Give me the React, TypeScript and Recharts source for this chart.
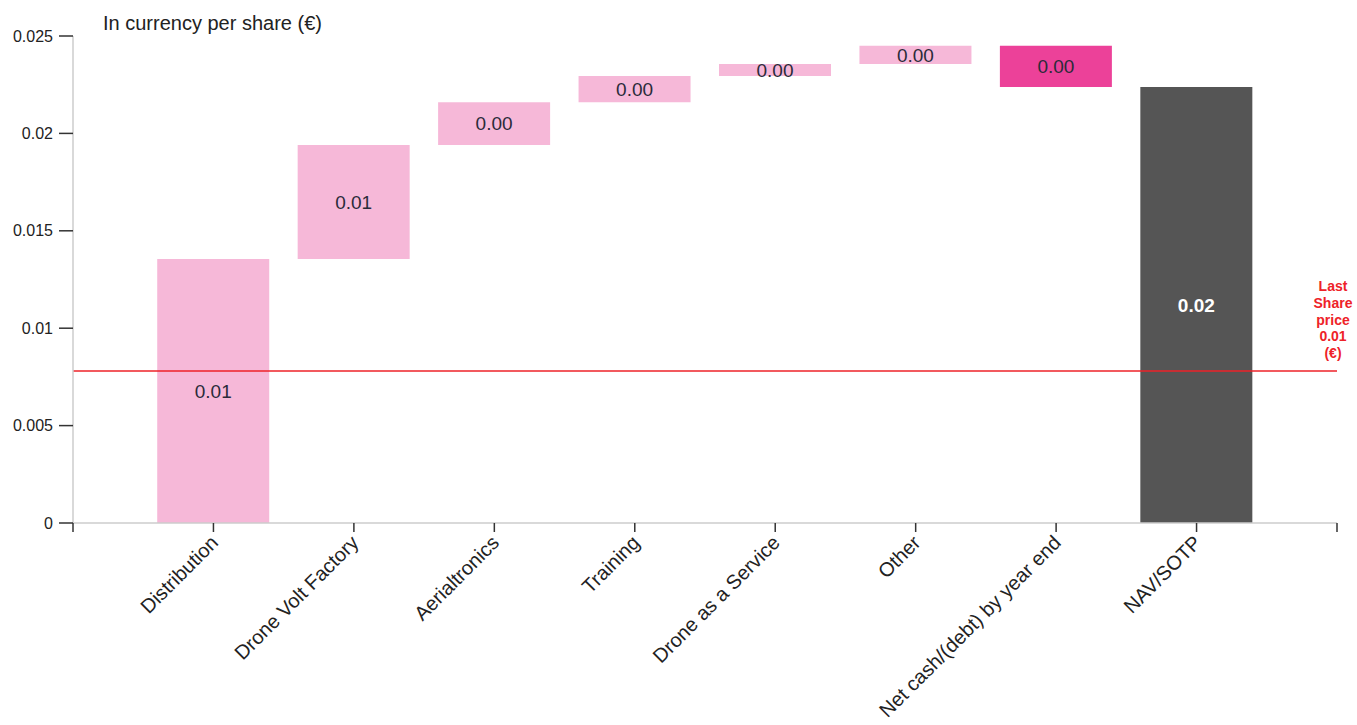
import React from 'react';
import { ComposedChart, Bar, Cell, XAxis, YAxis, ReferenceLine, LabelList } from 'recharts';

const categories = [
  'Distribution',
  'Drone Volt Factory',
  'Aerialtronics',
  'Training',
  'Drone as a Service',
  'Other',
  'Net cash/(debt) by year end',
  'NAV/SOTP',
];
// where each step starts and ends (€ per share)
const stepStart = [0, 0.01355, 0.0194, 0.0216, 0.02295, 0.02356, 0.0245, 0];
const stepEnd = [0.01355, 0.0194, 0.0216, 0.02295, 0.02356, 0.0245, 0.02238, 0.02238];
const totalIndex = 7;
const lastSharePrice = 0.0078;
const yTicks = [0, 0.005, 0.01, 0.015, 0.02, 0.025];
const xTicks = [0, 1, 2, 3, 4, 5, 6, 7, 8, 9];

const FONT = '"Liberation Sans", Arial, sans-serif';
const PINK = '#f6b8d8';
const HOT_PINK = '#ec4199';
const GREY = '#555555';
const RED = '#ee2228';

const chartData = categories.map((name, i) => ({
  pos: i + 1,
  name,
  base: Math.min(stepStart[i], stepEnd[i]),
  delta: Math.abs(stepEnd[i] - stepStart[i]),
  label: Math.abs(stepEnd[i] - stepStart[i]).toFixed(2),
}));

const barColor = (i: number) => {
  if (i === totalIndex) return GREY;
  return stepEnd[i] < stepStart[i] ? HOT_PINK : PINK;
};

const CategoryTick = (props: any) => {
  const { x, y, payload } = props;
  const name = categories[payload.value - 1];
  if (!name) return null;
  return (
    <g transform={`translate(${x + 6},${y + 10})`}>
      <text transform="rotate(-45)" textAnchor="end" fontSize={20} fontFamily={FONT} fill="#222">
        {name}
      </text>
    </g>
  );
};

const BarLabel = (props: any) => {
  const { x, y, width, height, value, index } = props;
  const isTotal = index === totalIndex;
  return (
    <text
      x={x + width / 2}
      y={y + height / 2}
      dy="0.35em"
      textAnchor="middle"
      fontSize={19}
      fontFamily={FONT}
      fontWeight={isTotal ? 'bold' : 'normal'}
      fill={isTotal ? '#ffffff' : '#2b2b3a'}
    >
      {value}
    </text>
  );
};

const PriceLabel = (props: any) => {
  const { viewBox } = props;
  const cx = viewBox.x + viewBox.width - 4;
  const lines = ['Last', 'Share', 'price', lastSharePrice.toFixed(2), '(€)'];
  return (
    <text textAnchor="middle" fontSize={14} fontWeight="bold" fontFamily={FONT} fill={RED}>
      {lines.map((l, i) => (
        <tspan key={i} x={cx} y={viewBox.y - 80 + i * 16.8}>
          {l}
        </tspan>
      ))}
    </text>
  );
};

export default function App() {
  return (
    <div style={{ position: 'absolute', left: 0, top: 0, width: 1357, height: 725, background: '#fff' }}>
      <div
        style={{
          position: 'absolute',
          left: 103,
          top: 12,
          fontSize: 20,
          fontFamily: FONT,
          color: '#222',
          whiteSpace: 'nowrap',
        }}
      >
        In currency per share (€)
      </div>
      <ComposedChart
        width={1357}
        height={725}
        data={chartData}
        margin={{ top: 36, right: 20, left: 0, bottom: 2 }}
      >
        <XAxis
          dataKey="pos"
          type="number"
          domain={[0, 9]}
          ticks={xTicks}
          interval={0}
          height={200}
          tickSize={9}
          tickMargin={2}
          axisLine={{ stroke: '#cccccc', strokeWidth: 1.5 }}
          tickLine={{ stroke: '#333333', strokeWidth: 1.5 }}
          tick={<CategoryTick />}
        />
        <YAxis
          domain={[0, 0.025]}
          ticks={yTicks}
          width={73}
          tickSize={14}
          tickMargin={6}
          axisLine={{ stroke: '#cccccc', strokeWidth: 1.5 }}
          tickLine={{ stroke: '#333333', strokeWidth: 1.5 }}
          tick={{ fill: '#222', fontSize: 16, fontFamily: FONT }}
          tickFormatter={(v: number) => String(v)}
        />
        <Bar dataKey="base" stackId="w" fill="transparent" barSize={112} isAnimationActive={false} />
        <Bar dataKey="delta" stackId="w" barSize={112} isAnimationActive={false}>
          {chartData.map((d, i) => (
            <Cell key={d.name} fill={barColor(i)} />
          ))}
          <LabelList dataKey="label" content={<BarLabel />} />
        </Bar>
        <ReferenceLine
          y={lastSharePrice}
          stroke={RED}
          strokeWidth={1.5}
          label={<PriceLabel />}
        />
      </ComposedChart>
    </div>
  );
}
